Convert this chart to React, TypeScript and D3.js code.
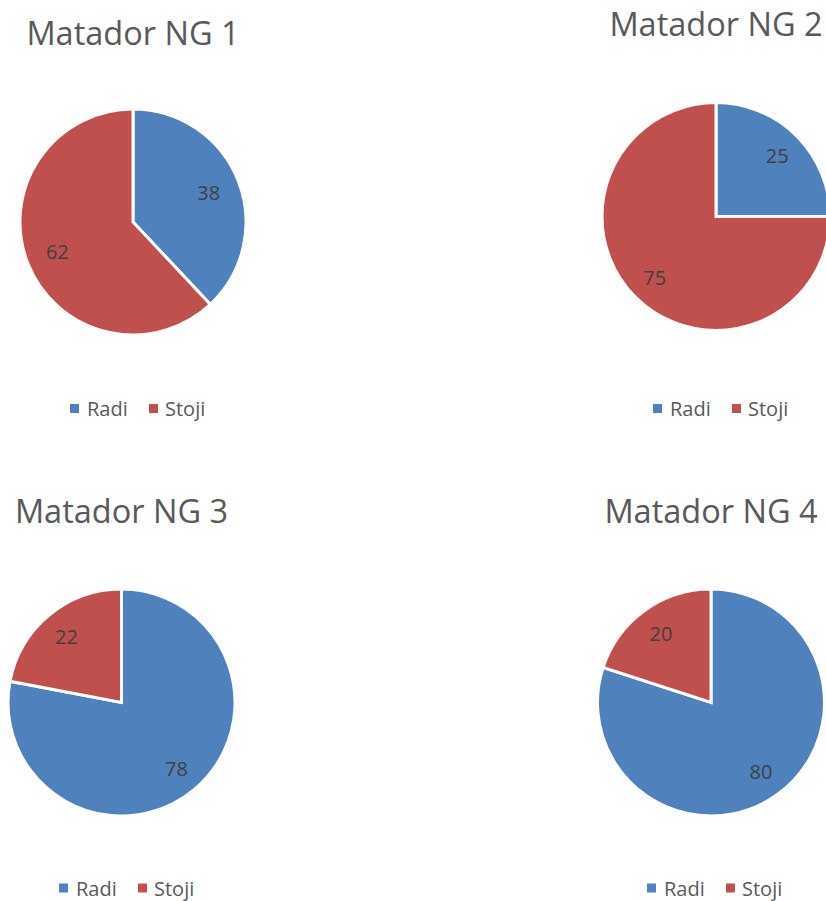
import { useRef, useEffect } from 'react';
import * as d3 from 'd3';

const titles = ['Matador NG 1', 'Matador NG 2', 'Matador NG 3', 'Matador NG 4'];
const categories = ['Radi', 'Stoji'];
const radiValues = [38, 25, 78, 80];
const stojiValues = [62, 75, 22, 20];
const colors = ['#4F81BD', '#C0504D'];

// panel layout: pie center, radius, title baseline, legend start/baseline
const panels = [
  { cx: 133, cy: 222, r: 113, titleY: 45, legendX: 70, legendY: 416, labelK: 0.72 },
  { cx: 716, cy: 216.5, r: 114, titleY: 36, legendX: 653, legendY: 416, labelK: 0.76 },
  { cx: 121.5, cy: 702.5, r: 113.5, titleY: 523, legendX: 59, legendY: 895.5, labelK: 0.76 },
  { cx: 711, cy: 702.5, r: 113.5, titleY: 523, legendX: 647, legendY: 895.5, labelK: 0.75 },
];

const FONT = '"Open Sans", sans-serif';

export default function App() {
  const svgRef = useRef<SVGSVGElement | null>(null);

  useEffect(() => {
    if (!svgRef.current) return;
    const svg = d3.select(svgRef.current);
    svg.selectAll('*').remove();

    svg.append('rect').attr('width', 826).attr('height', 901).attr('fill', '#fff');

    const pie = d3.pie<number>().sort(null).value(d => d);

    titles.forEach((title, i) => {
      const p = panels[i];
      const values = [radiValues[i], stojiValues[i]];
      const g = svg.append('g');

      g.append('text')
        .attr('x', p.cx)
        .attr('y', p.titleY)
        .attr('text-anchor', 'middle')
        .attr('font-family', FONT)
        .attr('font-size', 32.5)
        .attr('fill', '#595959')
        .text(title);

      const arc = d3.arc<d3.PieArcDatum<number>>().innerRadius(0).outerRadius(p.r);
      const labelR = p.r * p.labelK;
      const labelArc = d3.arc<d3.PieArcDatum<number>>().innerRadius(labelR).outerRadius(labelR);
      const arcs = pie(values);

      const pieG = g.append('g').attr('transform', `translate(${p.cx},${p.cy})`);
      pieG.selectAll('path')
        .data(arcs)
        .enter()
        .append('path')
        .attr('d', arc)
        .attr('fill', (_d, j) => colors[j])
        .attr('stroke', '#fff')
        .attr('stroke-width', 3)
        .attr('stroke-linejoin', 'miter');

      pieG.selectAll('text')
        .data(arcs)
        .enter()
        .append('text')
        .attr('transform', d => `translate(${labelArc.centroid(d)})`)
        .attr('text-anchor', 'middle')
        .attr('dominant-baseline', 'central')
        .attr('font-family', FONT)
        .attr('font-size', 20)
        .attr('fill', '#404040')
        .text(d => String(d.data));

      // legend
      const offsets = [[0, 17], [79, 95]];
      categories.forEach((cat, j) => {
        g.append('rect')
          .attr('x', p.legendX + offsets[j][0])
          .attr('y', p.legendY - 12)
          .attr('width', 9)
          .attr('height', 9)
          .attr('fill', colors[j]);
        g.append('text')
          .attr('x', p.legendX + offsets[j][1])
          .attr('y', p.legendY)
          .attr('font-family', FONT)
          .attr('font-size', 20)
          .attr('fill', '#595959')
          .text(cat);
      });
    });
  }, []);

  return (
    <svg
      ref={svgRef}
      width={826}
      height={901}
      style={{ position: 'absolute', left: 0, top: 0, display: 'block' }}
    />
  );
}
